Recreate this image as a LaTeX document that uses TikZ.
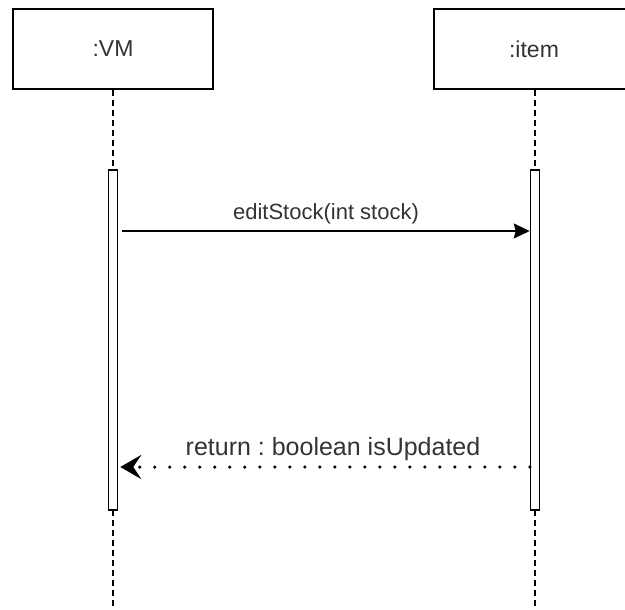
\documentclass[tikz,border=0pt]{standalone}
\usepackage{fontspec}
\setmainfont{Liberation Sans}
\usetikzlibrary{arrows.meta}
\usetikzlibrary{positioning}

\begin{document}
\frenchspacing
\begin{tikzpicture}[x=1pt,y=-1pt,
  object/.style={draw,line width=2pt,minimum width=200pt,minimum height=80pt,
    font=\fontsize{23}{28}\selectfont,text=black!80},
  lifeline/.style={line width=2pt,dash pattern=on 6pt off 4pt},
  activation/.style={draw,fill=white,line width=1.5pt,minimum width=9pt,
    minimum height=340pt,inner sep=0pt},
  msg/.style={font=\fontsize{22}{26}\selectfont,text=black!80},
  call/.style={line width=1.5pt,-{Stealth[length=16pt,width=15pt,inset=2pt]}},
  reply/.style={line width=3.5pt,line cap=round,dash pattern=on 0pt off 15pt,
    -{Stealth[length=21pt,width=24pt,inset=8pt,line cap=butt]}}]
  \useasboundingbox (0,0) rectangle (625,610);
  \node[object] (vm) at (113,49) {:VM};
  \node[object] (item) at (534,49) {:item};
  \coordinate (vmend) at (113,610);
  \coordinate (itemend) at (535,610);
  \draw[lifeline] (vm.south) -- (vmend);
  \draw[lifeline] (item.south -| itemend) -- (itemend);
  \node[activation] (vmbar) at (113,340) {};
  \node[activation] (itembar) at (535,340) {};
  % editStock
  \coordinate (callfrom) at ([xshift=4pt,yshift=109pt]vmbar.east);
  \coordinate (callto) at (itembar.west |- callfrom);
  \draw[call] (callfrom) -- node[msg,above=3pt] {editStock(int stock)} (callto);
  % return
  \coordinate (replyfrom) at ([yshift=-127pt]itembar.west);
  \coordinate (replyto) at ([xshift=2pt]vmbar.east |- replyfrom);
  \draw[reply] (replyfrom) -- node[msg,above=1pt,xshift=8pt,font=\fontsize{25}{30}\selectfont] {return : boolean isUpdated} (replyto);
\end{tikzpicture}
\end{document}
